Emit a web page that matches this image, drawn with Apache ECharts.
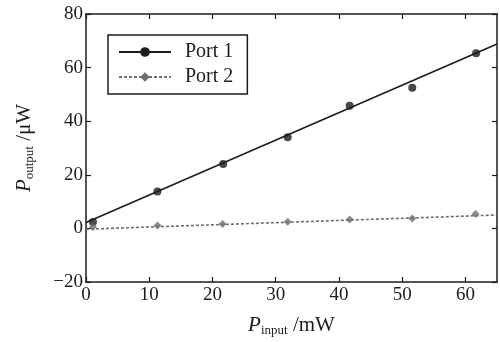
<!DOCTYPE html>
<html>
<head>
<meta charset="utf-8">
<script src="https://cdn.jsdelivr.net/npm/echarts@6/dist/echarts.min.js"></script>
<style>
  html, body { margin: 0; padding: 0; background: #fff; }
  #chart { width: 500px; height: 342px; }
</style>
</head>
<body>
<div id="chart"></div>
<script>
  // measured points (input mW, output uW)
  const port1Pts = [[1.1, 2.4], [11.3, 13.8], [21.7, 24], [31.9, 34], [41.7, 45.8], [51.6, 52.5], [61.7, 65.4]]
  const port2Pts = [[1.1, 0.5], [11.3, 1.1], [21.6, 1.6], [31.9, 2.5], [41.7, 3.3], [51.6, 3.7], [61.6, 5.4]]
  // fitted lines, end points
  const port1Fit = [[0, 2.2], [65, 68.8]]
  const port2Fit = [[0, -0.3], [65, 5]]
  const xTicks = [0, 10, 20, 30, 40, 50, 60]
  const yTicks = [-20, 0, 20, 40, 60, 80]

  const font = 'Liberation Serif'
  const dark = '#1c1c1c'
  const grey = '#6e6e6e'

  let myChart = echarts.init(document.getElementById('chart'))
  let tickLabel = {
    fontFamily: font,
    fontSize: 19,
    color: dark,
  }
  let axisName = {
    rich: {
      i: { fontFamily: font, fontStyle: 'italic', fontSize: 21, color: dark },
      s: { fontFamily: font, fontSize: 13, color: dark, padding: [10, 0, 0, 0] },
      n: { fontFamily: font, fontSize: 21, color: dark }
    }
  }
  let lineOf = { onZero: false, lineStyle: { color: dark, width: 1.5 } }
  let tickOf = (vals) => ({ inside: true, length: 5, customValues: vals, lineStyle: { color: dark, width: 1.2 } })

  let option = {
    animation: false,
    grid: {
      left: 86,
      right: 3,
      top: 14,
      bottom: 59
    },
    legend: {
      orient: 'vertical',
      left: 108,
      top: 35,
      padding: [7, 14, 7, 10],
      itemGap: 5,
      itemWidth: 52,
      itemHeight: 12,
      borderColor: dark,
      borderWidth: 1.5,
      textStyle: {
        fontFamily: font,
        fontSize: 20,
        color: dark,
        padding: [0, 0, 0, 9]
      },
      data: ['Port 1', 'Port 2']
    },
    xAxis: [{
      type: 'value',
      min: 0,
      max: 65,
      name: '{i|P}{s|input}{n| /mW}',
      nameLocation: 'middle',
      nameGap: 32,
      nameTextStyle: axisName,
      axisLine: lineOf,
      axisTick: tickOf(xTicks),
      axisLabel: Object.assign({ margin: 4, customValues: xTicks }, tickLabel),
      splitLine: { show: false }
    }, {
      type: 'value',
      position: 'top',
      min: 0,
      max: 65,
      axisLine: lineOf,
      axisTick: tickOf(xTicks),
      axisLabel: { show: false },
      splitLine: { show: false }
    }],
    yAxis: [{
      type: 'value',
      min: -20,
      max: 80,
      name: '{i|P}{s|output}{n| /μW}',
      nameLocation: 'middle',
      nameGap: 50,
      nameTextStyle: axisName,
      axisLine: lineOf,
      axisTick: tickOf(yTicks),
      axisLabel: Object.assign({
        margin: 3,
        customValues: yTicks,
        formatter: function (v) {
          return String(v).replace('-', '\u2212')
        }
      }, tickLabel),
      splitLine: { show: false }
    }, {
      type: 'value',
      position: 'right',
      min: -20,
      max: 80,
      axisLine: lineOf,
      axisTick: tickOf(yTicks),
      axisLabel: { show: false },
      splitLine: { show: false }
    }],
    series: [
      {
        name: 'Port 1',
        type: 'line',
        symbol: 'circle',
        symbolSize: 8,
        showSymbol: false,
        color: dark,
        lineStyle: { color: dark, width: 1.6 },
        data: port1Fit,
        z: 2
      },
      {
        name: 'Port 1',
        type: 'scatter',
        symbol: 'circle',
        symbolSize: 8,
        color: dark,
        data: port1Pts,
        z: 3
      },
      {
        name: 'Port 2',
        type: 'line',
        symbol: 'diamond',
        symbolSize: 8,
        showSymbol: false,
        color: grey,
        lineStyle: { color: grey, width: 1.6, type: [3, 2] },
        data: port2Fit,
        z: 2
      },
      {
        name: 'Port 2',
        type: 'scatter',
        symbol: 'diamond',
        symbolSize: 8,
        color: grey,
        data: port2Pts,
        z: 3
      }
    ]
  }
  myChart.setOption(option)
</script>
</body>
</html>
